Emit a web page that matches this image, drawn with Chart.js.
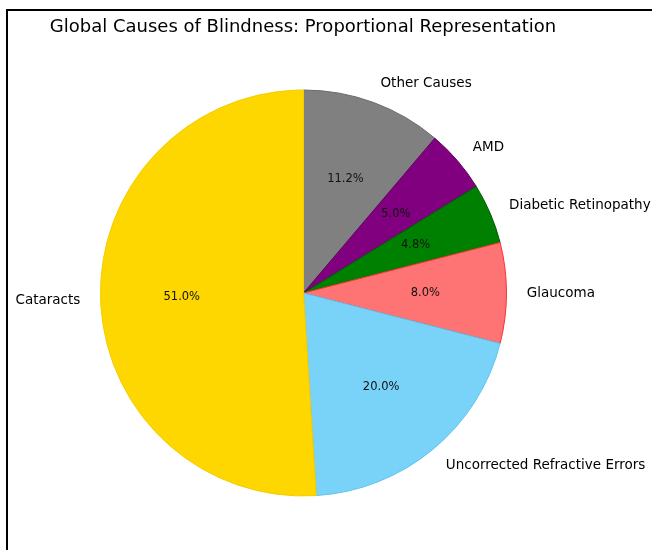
<!DOCTYPE html>
<html>
<head>
<meta charset="utf-8">
<script src="https://cdn.jsdelivr.net/npm/chart.js@4/dist/chart.umd.min.js"></script>
<style>
  html, body { margin: 0; padding: 0; background: #fff; }
  #wrap { width: 652px; height: 550px; position: relative; }
</style>
</head>
<body>
<div id="wrap"><canvas id="blindnessChart" width="652" height="550"></canvas></div>
<script>
// Causes listed clockwise from 12 o'clock
const causes = ['Other Causes', 'AMD', 'Diabetic Retinopathy', 'Glaucoma', 'Uncorrected Refractive Errors', 'Cataracts'];
const shares = [11.2, 5.0, 4.8, 8.0, 20.0, 51.0];
const fills = ['#808080', '#800080', '#008000', '#FE7474', '#79D3F8', '#FFD700'];
const edges = ['#6a6a6a', '#5e005e', '#005a00', '#FF3030', '#5CC4F0', '#F2CC00'];
const chartTitle = 'Global Causes of Blindness: Proportional Representation';

const FONT = '"DejaVu Sans", Verdana, sans-serif';

// Title, frame, outer labels and percentages drawn on top of the arcs
const pieText = {
    id: 'pieText',
    afterDraw(chart) {
        const ctx = chart.ctx;
        ctx.save();

        // frame lines
        ctx.strokeStyle = '#000';
        ctx.lineWidth = 2;
        ctx.beginPath();
        ctx.moveTo(7, 552);
        ctx.lineTo(7, 10);
        ctx.lineTo(660, 10);
        ctx.stroke();

        ctx.fillStyle = '#000';
        ctx.font = '18px ' + FONT;
        ctx.textAlign = 'center';
        ctx.textBaseline = 'middle';
        ctx.fillText(chartTitle, 303, 27);

        const arcs = chart.getDatasetMeta(0).data;
        arcs.forEach((arc, i) => {
            const mid = (arc.startAngle + arc.endAngle) / 2;
            const r = arc.outerRadius;
            const cx = Math.cos(mid), cy = Math.sin(mid);

            ctx.font = '13.5px ' + FONT;
            ctx.textAlign = cx >= 0 ? 'left' : 'right';
            ctx.textBaseline = 'middle';
            ctx.fillStyle = '#000';
            ctx.fillText(causes[i], arc.x + cx * r * 1.1, arc.y + cy * r * 1.1);

            ctx.font = '11.5px ' + FONT;
            ctx.textAlign = 'center';
            ctx.fillStyle = '#111';
            ctx.fillText(shares[i].toFixed(1) + '%', arc.x + cx * r * 0.6, arc.y + cy * r * 0.6);
        });
        ctx.restore();
    }
};

new Chart(document.getElementById('blindnessChart'), {
    type: 'pie',
    data: {
        labels: causes,
        datasets: [{
            data: shares,
            backgroundColor: fills,
            borderColor: edges,
            borderWidth: 1,
            hoverOffset: 0
        }]
    },
    options: {
        responsive: false,
        animation: false,
        rotation: 0,
        layout: { padding: { left: 100, right: 145, top: 89, bottom: 53 } },
        plugins: {
            legend: { display: false },
            tooltip: { enabled: false },
            title: { display: false }
        }
    },
    plugins: [pieText]
});
</script>
</body>
</html>
